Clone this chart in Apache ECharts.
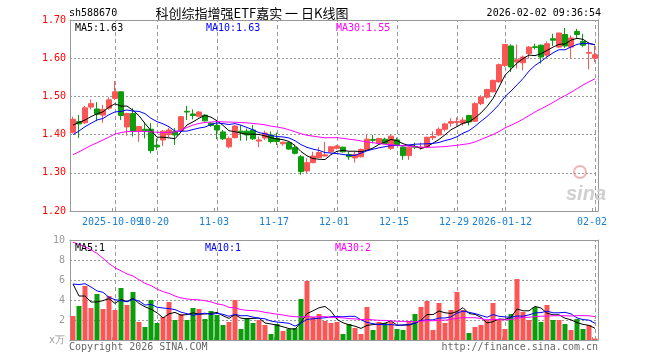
<!DOCTYPE html>
<html><head><meta charset="utf-8">
<script src="https://cdn.jsdelivr.net/npm/echarts@6/dist/echarts.min.js"></script>
<style>html,body{margin:0;padding:0;background:#fff}#c{width:660px;height:360px;background:#fff}</style>
</head><body><div id="c"></div>
<script>
// ---------------- data ----------------
const dates = [
 '2025-09-22','2025-09-23','2025-09-24','2025-09-25','2025-09-26','2025-09-29','2025-09-30',
 '2025-10-09','2025-10-10','2025-10-13','2025-10-14','2025-10-15','2025-10-16','2025-10-17',
 '2025-10-20','2025-10-21','2025-10-22','2025-10-23','2025-10-24','2025-10-27','2025-10-28','2025-10-29','2025-10-30','2025-10-31',
 '2025-11-03','2025-11-04','2025-11-05','2025-11-06','2025-11-07','2025-11-10','2025-11-11','2025-11-12','2025-11-13','2025-11-14',
 '2025-11-17','2025-11-18','2025-11-19','2025-11-20','2025-11-21','2025-11-24','2025-11-25','2025-11-26','2025-11-27','2025-11-28',
 '2025-12-01','2025-12-02','2025-12-03','2025-12-04','2025-12-05','2025-12-08','2025-12-09','2025-12-10','2025-12-11','2025-12-12',
 '2025-12-15','2025-12-16','2025-12-17','2025-12-18','2025-12-19','2025-12-22','2025-12-23','2025-12-24','2025-12-25','2025-12-26',
 '2025-12-29','2025-12-30','2025-12-31',
 '2026-01-05','2026-01-06','2026-01-07','2026-01-08','2026-01-09','2026-01-12','2026-01-13','2026-01-14','2026-01-15','2026-01-16',
 '2026-01-19','2026-01-20','2026-01-21','2026-01-22','2026-01-23','2026-01-26','2026-01-27','2026-01-28','2026-01-29','2026-01-30',
 '2026-02-02'];

const opens = [1.406,1.434,1.431,1.472,1.467,1.451,1.469,1.495,1.512,1.420,
 1.455,1.409,1.414,1.414,1.372,1.386,1.400,1.408,1.411,1.461,
 1.454,1.448,1.451,1.430,1.424,1.407,1.368,1.392,1.409,1.409,
 1.412,1.383,1.391,1.399,1.390,1.376,1.379,1.366,1.342,1.305,
 1.3265,1.340,1.344,1.355,1.364,1.367,1.348,1.339,1.342,1.361,
 1.387,1.377,1.388,1.364,1.386,1.367,1.345,1.369,1.365,1.368,
 1.392,1.399,1.414,1.430,1.432,1.430,1.450,1.435,1.481,1.498,
 1.512,1.538,1.581,1.632,1.590,1.588,1.612,1.630,1.634,1.608,
 1.651,1.629,1.662,1.629,1.670,1.644,1.613,1.600];
const closes = [1.440,1.428,1.470,1.481,1.453,1.466,1.491,1.512,1.450,1.455,
 1.409,1.421,1.410,1.358,1.368,1.409,1.412,1.399,1.447,1.459,
 1.450,1.459,1.436,1.424,1.412,1.389,1.390,1.4225,1.405,1.399,
 1.389,1.386,1.404,1.382,1.382,1.380,1.362,1.351,1.303,1.3265,
 1.344,1.353,1.347,1.368,1.370,1.355,1.342,1.348,1.361,1.388,
 1.385,1.390,1.377,1.396,1.373,1.345,1.367,1.367,1.367,1.393,
 1.395,1.414,1.428,1.434,1.434,1.438,1.433,1.481,1.498,1.518,
 1.542,1.583,1.636,1.577,1.596,1.603,1.629,1.628,1.603,1.638,
 1.647,1.666,1.632,1.653,1.662,1.634,1.615,1.609];
const highs = [1.447,1.451,1.475,1.492,1.485,1.478,1.498,1.540,1.513,1.457,
 1.469,1.422,1.431,1.430,1.390,1.412,1.418,1.417,1.449,1.475,
 1.466,1.462,1.453,1.433,1.434,1.412,1.395,1.425,1.425,1.416,
 1.425,1.395,1.410,1.408,1.405,1.382,1.381,1.373,1.347,1.338,
 1.355,1.367,1.381,1.370,1.373,1.369,1.355,1.355,1.364,1.399,
 1.399,1.392,1.392,1.399,1.392,1.369,1.369,1.379,1.379,1.395,
 1.408,1.419,1.431,1.443,1.445,1.445,1.452,1.485,1.503,1.520,
 1.544,1.586,1.636,1.636,1.636,1.607,1.632,1.638,1.636,1.644,
 1.664,1.666,1.679,1.660,1.677,1.664,1.642,1.632];
const lows = [1.403,1.391,1.428,1.466,1.435,1.431,1.465,1.491,1.438,1.397,
 1.395,1.381,1.390,1.351,1.360,1.370,1.393,1.373,1.408,1.438,
 1.440,1.445,1.434,1.420,1.388,1.386,1.364,1.390,1.384,1.384,
 1.386,1.367,1.386,1.377,1.373,1.371,1.360,1.348,1.295,1.299,
 1.325,1.338,1.342,1.353,1.361,1.353,1.334,1.327,1.340,1.360,
 1.377,1.376,1.375,1.360,1.370,1.334,1.334,1.362,1.360,1.367,
 1.386,1.396,1.408,1.421,1.423,1.423,1.424,1.433,1.477,1.494,
 1.510,1.536,1.577,1.564,1.573,1.568,1.599,1.623,1.586,1.603,
 1.632,1.627,1.627,1.599,1.653,1.629,1.571,1.590];
// closes of the 29 sessions before the window (estimated from the MA lines)
const priorCloses = [1.20,1.22,1.23,1.25,1.24,1.26,1.28,1.33,
 1.38,1.40,1.42,1.41,1.39,1.40,1.43,1.40,1.37,1.31,
 1.24,1.26,1.334,1.357,1.392,1.367,1.425,1.393,1.439,1.437,1.416];

const volumes = [2.4,3.4,5.4,3.2,4.6,3.1,4.4,3.0,5.2,3.5,
 4.8,1.8,1.3,4.0,1.7,2.3,3.8,2.0,2.6,2.0,
 3.2,3.1,2.1,2.9,2.5,1.5,1.8,4.0,1.1,2.2,
 1.7,2.0,1.5,0.6,1.6,0.9,1.1,1.2,4.1,5.9,
 2.3,2.6,1.9,1.7,1.8,0.6,1.6,1.2,0.6,3.3,
 1.0,1.8,1.7,1.8,1.1,1.0,1.9,2.6,3.3,3.9,
 1.0,3.7,1.7,3.0,4.8,3.0,0.7,1.3,1.5,2.0,
 3.7,2.0,1.1,2.6,6.1,2.8,2.0,3.3,1.8,3.5,
 2.0,2.0,1.6,1.0,2.1,1.1,1.5,0.15];
const priorVolumes = [10,12,13,15,18,20,16,14,13,11,
 13,12,11,12,10,9,10,8.4,5,5,
 4.0,4.5,6.5,8.5,4.5,9.4,5.4,6.2,4.6];

const tickDates = ['2025-10-09','2025-10-20','2025-11-03','2025-11-17','2025-12-01','2025-12-15','2025-12-29','2026-01-12','2026-02-02'];
const tickLabels = ['2025-10-09','10-20','11-03','11-17','12-01','12-15','12-29','2026-01-12','02-02'];
const priceTicks = {min:1.2, max:1.7, step:0.1};
const volTicks = {min:0, max:10, step:2};
const priceMaLabels = ['MA5:1.63','MA10:1.63','MA30:1.55'];
const volMaLabels = ['MA5:1','MA10:1','MA30:2'];
const titleCode = 'sh588670';
const titleName = '科创综指增强ETF嘉实 一 日K线图';
const titleTime = '2026-02-02 09:36:54';

// ---------------- helpers ----------------
function movingAvg(prior, vals, n) {
  const all = prior.concat(vals), off = prior.length, out = [];
  for (let i = 0; i < vals.length; i++) {
    let s = 0; for (let k = off + i - n + 1; k <= off + i; k++) s += all[k];
    out.push(+(s / n).toFixed(4));
  }
  return out;
}
function innerTicks(t) {
  const out = []; const n = Math.round((t.max - t.min) / t.step);
  for (let k = 1; k < n; k++) out.push(+(t.min + k * t.step).toFixed(4));
  return out;
}
const UP = '#fa5656', DOWN = '#0c9c0c';
const MONO = 'DejaVu Sans Mono';
const GRIDC = '#9a9a9a', FRAME = '#999999';
const kData = dates.map((d, i) => [opens[i], closes[i], lows[i], highs[i]]);
const volData = volumes.map((v, i) => ({value: v, itemStyle: {color: closes[i] >= opens[i] ? UP : DOWN}}));
const tickIdx = tickDates.map(d => dates.indexOf(d));
const isTickIdx = i => tickIdx.indexOf(i) >= 0;
const firstTick = tickIdx[0];

// grid lines as mark lines (horizontal at the inner value ticks, vertical at the labelled dates)
const gridMarks = t => ({
  silent: true, symbol: ['none', 'none'], animation: false, z: 1, label: {show: false},
  emphasis: {disabled: true},
  data: innerTicks(t).map(v => ({yAxis: v, lineStyle: {color: GRIDC, type: [2, 2], width: 1}}))
    .concat(tickDates.map(d => ({xAxis: d, lineStyle: {color: GRIDC, type: [4, 3], width: 1}})))
});

const maLine = (name, data, color, xi, yi) => ({
  name, type: 'line', data, xAxisIndex: xi, yAxisIndex: yi, showSymbol: false, symbol: 'none',
  silent: true, animation: false, lineStyle: {color, width: 1}, z: 5
});
const labelStyle = {color: '#1a7fd0', fontSize: 10, fontFamily: MONO, margin: 6, padding: [0, 6, 0, 0], hideOverlap: false,
  formatter: v => { const k = tickDates.indexOf(v); return k >= 0 ? tickLabels[k] : ''; }};

const xBase = (gi, showLabel) => ({
  type: 'category', gridIndex: gi, data: dates, boundaryGap: true, position: 'bottom',
  axisLine: {show: true, onZero: false, lineStyle: {color: FRAME, width: 1}},
  axisTick: {show: true, inside: true, length: 3, interval: i => isTickIdx(i), lineStyle: {color: FRAME}},
  axisLabel: showLabel ? Object.assign({show: true, interval: i => isTickIdx(i) && i !== firstTick,
    showMinLabel: true, showMaxLabel: true}, labelStyle) : {show: false},
  splitLine: {show: false}
});
// second label row for the first (year) label, so it is not dropped as overlapping
const xFirstLabel = {
  type: 'category', gridIndex: 0, data: dates, boundaryGap: true, position: 'bottom',
  axisLine: {show: false}, axisTick: {show: false}, splitLine: {show: false},
  axisLabel: Object.assign({show: true, interval: i => i === firstTick, showMinLabel: true, showMaxLabel: false}, labelStyle)
};
const xFrame = gi => ({
  type: 'category', gridIndex: gi, data: dates, boundaryGap: true, position: 'top',
  axisLine: {show: true, onZero: false, lineStyle: {color: FRAME, width: 1}},
  axisTick: {show: false}, axisLabel: {show: false}, splitLine: {show: false}
});
const yFrame = (gi, t) => ({
  type: 'value', gridIndex: gi, position: 'right', min: t.min, max: t.max, interval: t.step,
  axisLine: {show: true, onZero: false, lineStyle: {color: FRAME, width: 1}},
  axisTick: {show: false}, axisLabel: {show: false}, splitLine: {show: false}
});
const yMain = (gi, t, label) => ({
  type: 'value', gridIndex: gi, position: 'left', min: t.min, max: t.max, interval: t.step,
  axisLine: {show: true, onZero: false, lineStyle: {color: FRAME, width: 1}},
  axisTick: {show: false},
  axisLabel: label,
  splitLine: {show: false}
});

const chart = echarts.init(document.getElementById('c'));
const txt = (text, x, y, color, align, font) => ({
  type: 'text', x, y, silent: true, z: 100,
  style: {text, fill: color, font: font || ('10px ' + MONO), textAlign: align || 'left', textVerticalAlign: 'middle', align: align || 'left', verticalAlign: 'middle'}
});

chart.setOption({
  animation: false,
  grid: [
    {left: 70, right: 62, top: 20, height: 191},
    {left: 70, right: 62, top: 240, height: 100}
  ],
  xAxis: [xBase(0, true), xBase(1, false), xFrame(0), xFrame(1), xFirstLabel],
  yAxis: [
    yMain(0, priceTicks, {color: '#ff0000', fontSize: 10, fontFamily: MONO, margin: 4, formatter: v => v.toFixed(2)}),
    yMain(1, volTicks, {color: '#999999', fontSize: 10, fontFamily: MONO, margin: 5, formatter: v => v === 0 ? 'x万' : String(v)}),
    yFrame(0, priceTicks), yFrame(1, volTicks)
  ],
  series: [
    {type: 'candlestick', data: kData, xAxisIndex: 0, yAxisIndex: 0, barWidth: 5, silent: true, z: 2,
     itemStyle: {color: UP, color0: DOWN, borderColor: UP, borderColor0: DOWN, borderWidth: 1},
     markLine: gridMarks(priceTicks)},
    maLine('MA5', movingAvg(priorCloses, closes, 5), '#000000', 0, 0),
    maLine('MA10', movingAvg(priorCloses, closes, 10), '#0000ff', 0, 0),
    maLine('MA30', movingAvg(priorCloses, closes, 30), '#ff00ff', 0, 0),
    {type: 'bar', data: volData, xAxisIndex: 1, yAxisIndex: 1, barWidth: 5, silent: true, z: 2,
     markLine: gridMarks(volTicks)},
    maLine('VMA5', movingAvg(priorVolumes, volumes, 5), '#000000', 1, 1),
    maLine('VMA10', movingAvg(priorVolumes, volumes, 10), '#0000ff', 1, 1),
    maLine('VMA30', movingAvg(priorVolumes, volumes, 30), '#ff00ff', 1, 1)
  ],
  graphic: [
    txt(titleCode, 69, 13, '#000'),
    txt(titleName, 252, 13, '#000', 'center', '13px "Noto Sans CJK SC"'),
    txt(titleTime, 601, 13, '#000', 'right'),
    txt(priceMaLabels[0], 75, 28, '#000'),
    txt(priceMaLabels[1], 206, 28, '#0000ff'),
    txt(priceMaLabels[2], 336, 28, '#ff00ff'),
    txt(volMaLabels[0], 75, 248, '#000'),
    txt(volMaLabels[1], 205, 248, '#0000ff'),
    txt(volMaLabels[2], 335, 248, '#ff00ff'),
    txt('Copyright 2026 SINA.COM', 69, 347, '#666'),
    txt('http://finance.sina.com.cn', 598, 347, '#666', 'right'),
    {type: 'circle', shape: {cx: 580, cy: 172, r: 6}, silent: true, z: 1, style: {fill: 'none', stroke: '#f4b4b4', lineWidth: 2}},
    txt('sina', 566, 194, '#cfcfcf', 'left', 'italic bold 20px "Liberation Sans"')
  ]
});
</script>
</body></html>
